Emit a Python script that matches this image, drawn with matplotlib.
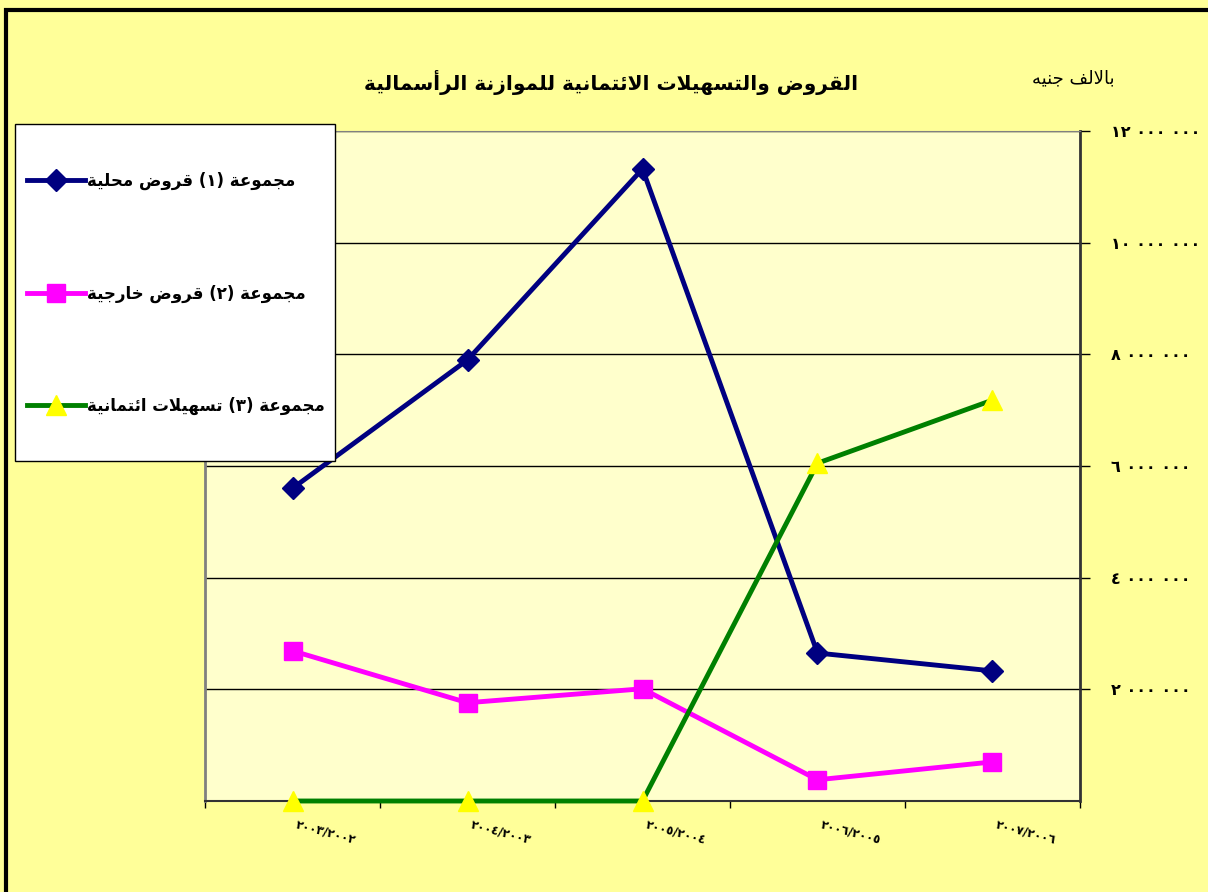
import numpy as np
import matplotlib
matplotlib.use('Agg')
import matplotlib.pyplot as plt
from matplotlib.patches import Rectangle

# valeurs du graphique (en milliers de livres)
annees = ['٢٠٠٣/٢٠٠٢', '٢٠٠٤/٢٠٠٣', '٢٠٠٥/٢٠٠٤', '٢٠٠٦/٢٠٠٥', '٢٠٠٧/٢٠٠٦']
qurud_mahalia = [5600000, 7900000, 11320000, 2650000, 2330000]
qurud_kharijia = [2690000, 1760000, 2010000, 380000, 700000]
tashilat = [0, 0, 0, 6050000, 7180000]
y_ticks = [2000000, 4000000, 6000000, 8000000, 10000000, 12000000]
y_labels = ['٢ ٠٠٠ ٠٠٠', '٤ ٠٠٠ ٠٠٠', '٦ ٠٠٠ ٠٠٠', '٨ ٠٠٠ ٠٠٠', '١٠ ٠٠٠ ٠٠٠', '١٢ ٠٠٠ ٠٠٠']
titre = 'القروض والتسهيلات الائتمانية للموازنة الرأسمالية'
unite = 'بالالف جنيه'
noms = ['مجموعة (١) قروض محلية', 'مجموعة (٢) قروض خارجية', 'مجموعة (٣) تسهيلات ائتمانية']

# formes de presentation arabes (isolee, finale, initiale, mediane)
FORMS = {}
for c, b in zip('ئبتثجحخسشصضطظعغفقكلمنهي',
                [0xFE89, 0xFE8F, 0xFE95, 0xFE99, 0xFE9D, 0xFEA1, 0xFEA5, 0xFEB1,
                 0xFEB5, 0xFEB9, 0xFEBD, 0xFEC1, 0xFEC5, 0xFEC9, 0xFECD, 0xFED1,
                 0xFED5, 0xFED9, 0xFEDD, 0xFEE1, 0xFEE5, 0xFEE9, 0xFEF1]):
    FORMS[c] = (b, True)
for c, b in zip('آأؤإاةدذرزوى',
                [0xFE81, 0xFE83, 0xFE85, 0xFE87, 0xFE8D, 0xFE93, 0xFEA9, 0xFEAB,
                 0xFEAD, 0xFEAF, 0xFEED, 0xFEEF]):
    FORMS[c] = (b, False)
LAM_ALEF = {'لآ': '\uFEF5', 'لأ': '\uFEF7', 'لإ': '\uFEF9', 'لا': '\uFEFB'}
for v in LAM_ALEF.values():
    FORMS[v] = (ord(v), False)


def shape(txt):
    for a, b in LAM_ALEF.items():
        txt = txt.replace(a, b)
    out = []
    for i, c in enumerate(txt):
        if c not in FORMS:
            out.append(c)
            continue
        base, dual = FORMS[c]
        prev = txt[i - 1] if i > 0 else ''
        nxt = txt[i + 1] if i + 1 < len(txt) else ''
        p = prev in FORMS and FORMS[prev][1]
        n = dual and nxt in FORMS
        if p and n:
            out.append(chr(base + 3))
        elif p:
            out.append(chr(base + 1))
        elif n:
            out.append(chr(base + 2))
        else:
            out.append(chr(base))
    s = ''.join(out)[::-1]
    return s.translate(str.maketrans('()', ')('))


plt.rcParams['font.family'] = ['DejaVu Sans']

W, H = 1208, 892
fig = plt.figure(figsize=(W / 100, H / 100), dpi=100)
fig.patch.set_facecolor('#FFFF99')

# cadre noir autour (droite et bas hors image)
fig.patches.append(Rectangle((6 / W, -0.2), 1.2, 1.2 - 10 / H, transform=fig.transFigure,
                             fill=False, edgecolor='black', linewidth=3, zorder=0))

ax = fig.add_axes([205 / W, 1 - 801 / H, 875 / W, 670 / H])
ax.set_facecolor('#FFFFCC')

x = np.arange(len(annees))
ax.plot(x, qurud_mahalia, color='#000080', lw=3.5, marker='D', ms=11,
        mfc='#000080', mec='#000080', label=shape(noms[0]), zorder=4)
ax.plot(x, qurud_kharijia, color='#FF00FF', lw=3.5, marker='s', ms=13,
        mfc='#FF00FF', mec='#FF00FF', label=shape(noms[1]), zorder=4)
ax.plot(x, tashilat, color='#008000', lw=3.5, marker='^', ms=15,
        mfc='#FFFF00', mec='#FFFF00', label=shape(noms[2]), zorder=4, clip_on=False)

ax.set_xlim(-0.5, len(annees) - 0.5)
ax.set_ylim(0, 12000000)
ax.yaxis.tick_right()
ax.set_yticks(y_ticks)
ax.set_yticklabels(y_labels, fontsize=11.5, fontweight='bold')
ax.tick_params(axis='y', length=7, width=1, pad=15, colors='black')
ax.grid(axis='y', color='black', lw=1)
ax.set_axisbelow(True)

ax.set_xticks(x + 0.03)
ax.set_xticklabels(annees, rotation=-15, ha='left', rotation_mode='anchor',
                   fontsize=8.5, fontweight='bold')
ax.set_xticks(np.arange(-0.5, len(annees), 1), minor=True)
ax.tick_params(axis='x', which='major', length=0, pad=12)
ax.tick_params(axis='x', which='minor', length=5, width=1)

ax.spines['top'].set_color('#808080')
ax.spines['left'].set_color('#808080')
ax.spines['left'].set_linewidth(2)
ax.spines['right'].set_color('#333333')
ax.spines['right'].set_linewidth(2)
ax.spines['bottom'].set_color('#333333')
ax.spines['bottom'].set_linewidth(1.5)

fig.text(611 / W, 1 - 82 / H, shape(titre), ha='center', va='center',
         fontsize=14.5, fontweight='bold')
fig.text(1073 / W, 1 - 78 / H, shape(unite), ha='center', va='center', fontsize=13)

# boite de legende blanche
fig.patches.append(Rectangle((15 / W, 1 - 461 / H), 320 / W, 337 / H,
                             transform=fig.transFigure, facecolor='white',
                             edgecolor='black', linewidth=1, zorder=3))
fig.legend(loc='upper left', bbox_to_anchor=(27 / W, 1 - 172 / H), frameon=False,
           prop={'weight': 'bold', 'size': 12}, labelspacing=5.65, handlelength=3.5,
           handletextpad=0.1, borderaxespad=0, borderpad=0, numpoints=1)

fig.savefig('out.png', dpi=100, facecolor=fig.get_facecolor())
